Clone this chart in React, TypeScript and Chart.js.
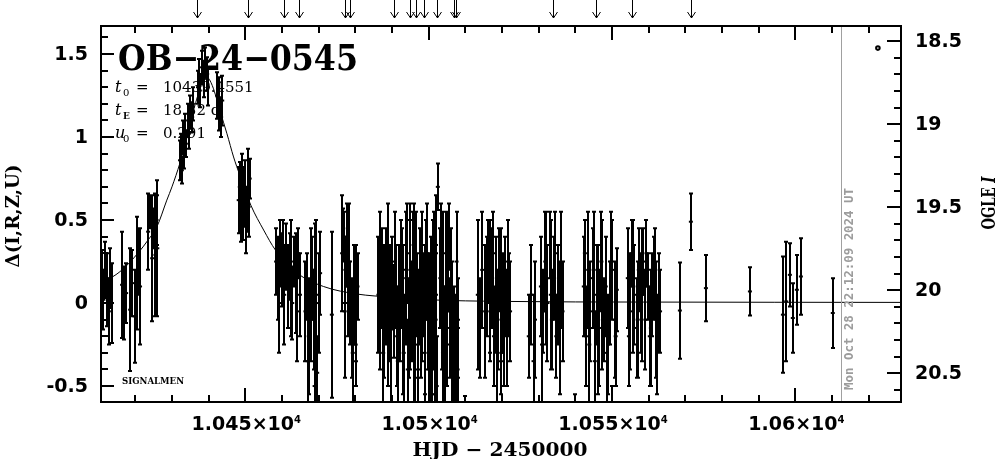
import { useEffect, useRef } from "react";
import { Chart, registerables } from "chart.js";

Chart.register(...registerables);

// ---- data ----
// [HJD-2450000, Delta(I), error]
const photometry: [number, number, number][] = [
  [10410.8, 0.12, 0.2], [10411.3, 0.02, 0.18], [10411.8, 0.2, 0.17], [10412.3, 0.08, 0.22],
  [10412.8, -0.05, 0.2], [10413.2, 0.15, 0.18], [10413.6, 0.0, 0.24],
  [10416.4, 0.11, 0.32], [10416.9, 0.0, 0.22], [10417.5, 0.06, 0.18], [10418.6, -0.04, 0.37],
  [10419.2, 0.12, 0.2], [10419.8, -0.08, 0.28], [10420.4, 0.18, 0.34], [10421.0, 0.25, 0.2],
  [10421.3, 0.1, 0.35],
  [10423.5, 0.43, 0.23], [10423.9, 0.55, 0.1], [10424.6, 0.27, 0.38], [10425.0, 0.45, 0.12],
  [10425.5, 0.29, 0.37], [10425.8, 0.5, 0.15], [10426.0, 0.33, 0.41],
  [10432.2, 0.86, 0.12], [10432.5, 0.92, 0.1], [10432.7, 0.8, 0.08], [10433.0, 1.0, 0.1],
  [10433.3, 0.9, 0.09], [10433.6, 1.04, 0.1], [10433.8, 0.96, 0.08], [10434.4, 1.1, 0.1],
  [10434.6, 1.02, 0.09], [10434.9, 1.15, 0.1], [10435.5, 1.12, 0.09], [10435.7, 1.2, 0.1],
  [10437.1, 1.3, 0.1], [10437.4, 1.38, 0.09], [10437.6, 1.28, 0.1], [10438.2, 1.42, 0.1],
  [10438.7, 1.35, 0.11], [10439.0, 1.45, 0.09], [10439.6, 1.38, 0.1], [10439.8, 1.3, 0.11],
  [10442.3, 1.25, 0.14], [10442.8, 1.2, 0.16], [10443.4, 1.12, 0.12], [10443.7, 1.22, 0.15],
  [10448.2, 0.62, 0.2], [10448.5, 0.7, 0.15], [10448.9, 0.55, 0.18], [10449.2, 0.72, 0.18],
  [10449.5, 0.6, 0.22], [10449.9, 0.66, 0.2], [10450.2, 0.5, 0.2], [10450.6, 0.68, 0.25],
  [10450.9, 0.58, 0.18], [10451.2, 0.75, 0.12],
  [10458.4, 0.25, 0.2], [10458.9, 0.15, 0.25], [10459.5, 0.3, 0.2], [10460.0, 0.2, 0.22],
  [10460.6, 0.05, 0.3], [10461.1, 0.28, 0.2], [10461.7, 0.1, 0.25], [10462.2, 0.22, 0.2],
  [10462.8, 0.0, 0.22], [10463.3, 0.25, 0.15], [10463.8, 0.12, 0.3], [10464.4, 0.3, 0.15],
  [10464.9, 0.05, 0.25],
  [10466.4, -0.05, 0.3], [10466.9, 0.1, 0.2], [10467.3, -0.2, 0.35], [10467.8, 0.05, 0.4],
  [10468.2, 0.15, 0.25], [10468.6, -0.1, 0.3], [10469.0, 0.2, 0.28], [10469.6, -0.42, 0.22],
  [10470.0, 0.0, 0.3], [10470.4, 0.18, 0.25],
  [10473.6, -0.07, 0.5],
  [10476.4, 0.3, 0.35], [10476.7, 0.45, 0.12], [10477.0, 0.4, 0.15], [10477.3, 0.2, 0.2],
  [10477.6, 0.35, 0.25], [10477.9, 0.1, 0.3], [10478.5, 0.0, 0.25], [10479.0, -0.15, 0.3],
  [10479.6, 0.05, 0.3], [10480.1, -0.25, 0.25], [10480.6, 0.1, 0.2],
  [10486.3, 0.05, 0.35], [10486.8, -0.1, 0.3], [10487.3, 0.15, 0.3], [10487.8, -0.05, 0.4],
  [10488.4, 0.1, 0.35], [10489.0, -0.2, 0.3], [10489.5, 0.0, 0.35], [10490.0, 0.12, 0.28],
  [10490.5, -0.05, 0.28], [10491.0, 0.1, 0.25], [10491.4, -0.2, 0.3], [10491.9, 0.05, 0.3],
  [10492.3, -0.1, 0.25], [10492.8, 0.15, 0.3], [10493.2, -0.3, 0.35], [10493.7, 0.0, 0.2],
  [10494.1, 0.3, 0.3], [10494.6, -0.15, 0.3], [10495.0, 0.2, 0.4], [10495.4, -0.05, 0.3],
  [10495.9, 0.35, 0.25], [10496.3, -0.25, 0.4], [10496.8, 0.05, 0.25], [10497.2, -0.1, 0.3],
  [10497.6, 0.1, 0.35],
  [10498.0, -0.15, 0.3], [10498.5, 0.05, 0.25], [10498.9, -0.3, 0.3], [10499.3, 0.2, 0.3],
  [10499.8, -0.05, 0.35], [10500.2, -0.4, 0.3], [10500.6, 0.1, 0.3], [10501.0, -0.2, 0.35],
  [10501.5, 0.25, 0.3], [10501.9, -0.1, 0.4], [10502.2, -0.5, 0.3], [10502.5, 0.7, 0.14],
  [10503.2, 0.15, 0.3], [10503.6, -0.1, 0.3], [10504.0, 0.3, 0.25], [10504.4, -0.25, 0.35],
  [10504.9, 0.05, 0.3], [10505.3, 0.25, 0.3], [10505.7, -0.15, 0.3], [10506.1, 0.1, 0.35],
  [10506.5, -0.35, 0.3], [10506.8, -0.1, 0.2], [10507.1, -0.45, 0.3], [10507.4, -0.2, 0.25],
  [10507.7, -0.55, 0.25], [10508.0, -0.15, 0.3], [10510.0, -0.7, 0.14],
  [10513.4, 0.05, 0.45], [10513.9, -0.15, 0.3], [10514.6, 0.2, 0.35], [10515.4, -0.05, 0.4],
  [10515.8, 0.1, 0.3],
  [10516.3, 0.25, 0.25], [10516.8, -0.05, 0.3], [10517.3, 0.15, 0.3], [10517.8, -0.2, 0.3],
  [10518.3, 0.05, 0.35], [10518.8, -0.1, 0.3], [10519.3, 0.2, 0.25], [10519.8, -0.3, 0.25],
  [10520.3, 0.0, 0.3], [10520.8, 0.1, 0.3], [10521.3, -0.15, 0.35], [10521.8, 0.05, 0.25],
  [10522.2, -0.05, 0.3],
  [10527.3, -0.2, 0.25], [10528.0, 0.05, 0.3], [10528.6, -0.35, 0.4], [10529.0, -0.1, 0.35],
  [10530.6, 0.1, 0.3], [10531.2, -0.05, 0.25], [10531.8, 0.25, 0.3], [10532.4, 0.0, 0.35],
  [10533.0, 0.35, 0.2], [10533.6, -0.1, 0.3], [10534.2, 0.15, 0.25], [10534.8, -0.2, 0.25],
  [10535.4, 0.05, 0.3], [10536.0, 0.2, 0.35], [10536.5, -0.05, 0.3], [10540.0, -0.75, 0.2],
  [10542.3, 0.1, 0.3], [10542.9, -0.2, 0.3], [10543.5, 0.2, 0.35], [10544.1, -0.05, 0.3],
  [10544.7, 0.15, 0.3], [10545.3, -0.35, 0.3], [10545.9, 0.05, 0.3], [10546.5, -0.15, 0.35],
  [10547.1, 0.25, 0.3], [10547.7, -0.1, 0.25], [10548.3, 0.1, 0.3], [10548.9, -0.25, 0.3],
  [10549.5, 0.0, 0.25], [10550.0, -0.7, 0.2], [10550.1, 0.2, 0.3], [10550.7, -0.1, 0.35],
  [10551.3, 0.08, 0.25],
  [10554.3, 0.15, 0.3], [10554.9, -0.05, 0.35], [10555.5, 0.3, 0.2], [10556.1, 0.05, 0.3],
  [10556.7, -0.15, 0.3], [10557.3, 0.2, 0.25], [10557.9, 0.0, 0.3], [10558.5, 0.25, 0.2],
  [10559.1, -0.1, 0.3], [10559.7, 0.1, 0.2], [10560.3, -0.2, 0.3], [10560.9, 0.05, 0.25],
  [10561.5, 0.15, 0.25], [10562.1, -0.1, 0.35], [10562.7, 0.0, 0.3], [10563.1, -0.05, 0.25],
  [10568.5, -0.045, 0.29], [10571.5, 0.49, 0.17], [10575.6, 0.09, 0.2], [10587.6, 0.07, 0.145],
  [10596.6, -0.07, 0.35], [10597.5, 0.01, 0.36], [10598.5, 0.17, 0.19], [10599.3, -0.09, 0.21],
  [10600.4, 0.08, 0.21], [10601.5, 0.16, 0.23], [10610.2, -0.06, 0.21],
];

// additional points in the crowded seasons
const photometryDense: [number, number, number][] = [
  [10459.2, 0.0, 0.3], [10460.3, 0.35, 0.15], [10462.5, 0.15, 0.35], [10464.1, -0.05, 0.3],
  [10467.0, -0.35, 0.3], [10468.9, -0.5, 0.3], [10469.3, 0.05, 0.45],
  [10477.1, -0.05, 0.4], [10478.2, 0.25, 0.35], [10479.3, -0.3, 0.4], [10480.3, 0.0, 0.35],
  [10486.6, 0.25, 0.3], [10487.6, -0.3, 0.3], [10488.8, 0.2, 0.4], [10489.8, -0.15, 0.45],
  [10490.8, 0.25, 0.3], [10491.6, -0.35, 0.3], [10492.5, 0.3, 0.2], [10493.0, -0.1, 0.45],
  [10493.9, 0.15, 0.4], [10494.3, -0.4, 0.3], [10494.8, 0.05, 0.45], [10495.6, 0.1, 0.45],
  [10496.0, -0.3, 0.35], [10496.6, 0.2, 0.35], [10497.0, -0.45, 0.3],
  [10498.2, 0.1, 0.45], [10499.1, -0.1, 0.45], [10499.6, 0.3, 0.3], [10500.4, -0.15, 0.45],
  [10500.8, -0.55, 0.3], [10501.2, 0.05, 0.45], [10501.7, -0.35, 0.35], [10502.0, 0.35, 0.3],
  [10503.4, 0.35, 0.25], [10503.9, -0.3, 0.4], [10504.6, 0.1, 0.45], [10505.1, -0.05, 0.45],
  [10505.5, 0.4, 0.2], [10506.3, -0.2, 0.45], [10507.3, -0.6, 0.3], [10507.9, -0.4, 0.3],
  [10507.6, 0.25, 0.3],
  [10516.6, 0.1, 0.4], [10517.6, 0.3, 0.25], [10518.6, -0.25, 0.35], [10519.6, 0.05, 0.4],
  [10520.6, -0.1, 0.4], [10521.6, 0.25, 0.25],
  [10530.9, -0.25, 0.35], [10532.1, 0.15, 0.4], [10533.3, 0.05, 0.45], [10534.5, 0.3, 0.25],
  [10535.7, -0.15, 0.4],
  [10542.6, 0.3, 0.2], [10543.8, -0.25, 0.4], [10545.0, 0.2, 0.35], [10546.2, -0.1, 0.45],
  [10547.4, 0.05, 0.45], [10548.6, -0.3, 0.35], [10549.8, 0.25, 0.3], [10551.0, -0.2, 0.3],
  [10554.6, -0.2, 0.3], [10555.8, 0.1, 0.4], [10557.0, -0.1, 0.35], [10558.2, 0.05, 0.4],
  [10559.4, 0.3, 0.2], [10560.6, -0.15, 0.35], [10561.8, 0.2, 0.25], [10562.4, -0.25, 0.3],
];

const modelHjd = [
  10410.65, 10413.1, 10416.4, 10420.7, 10423.5, 10425.9, 10428.6, 10430.0, 10432.2, 10434.0,
  10436.0, 10438.0, 10439.5, 10441.0, 10443.2, 10445.0, 10446.8, 10448.5, 10451.5, 10455.0,
  10458.2, 10464.2, 10471.3, 10480.6, 10489.6, 10500.0, 10520.0, 10560.0, 10628.8,
];
const modelDelta = [
  0.135, 0.15, 0.2, 0.3, 0.38, 0.46, 0.62, 0.7, 0.845, 0.99,
  1.17, 1.31, 1.36, 1.31, 1.15, 1.02, 0.88, 0.77, 0.59, 0.44,
  0.32, 0.18, 0.1, 0.054, 0.036, 0.02, 0.01, 0.006, 0.004,
];

const arrowHjd = [
  10436.7, 10450.6, 10460.6, 10464.7, 10477.1, 10478.6, 10490.6, 10494.9, 10496.6,
  10498.6, 10502.4, 10506.8, 10507.4, 10533.8, 10545.5, 10555.5, 10571.6,
];

const xTickValues = [10450, 10500, 10550, 10600];
const xTickMantissa = ["1.045×10", "1.05×10", "1.055×10", "1.06×10"];
const xTickExponent = ["4", "4", "4", "4"];
const yTickValues = [-0.5, 0, 0.5, 1, 1.5];
const yTickLabels = ["-0.5", "0", "0.5", "1", "1.5"];
const magTickValues = [18.5, 19, 19.5, 20, 20.5];
const magTickLabels = ["18.5", "19", "19.5", "20", "20.5"];

const paramLines = [
  { sym: "t", sub: "0", value: "10439.4551" },
  { sym: "t", sub: "E", value: "18.32 d" },
  { sym: "u", sub: "0", value: "0.291" },
];

const eventName = "OB−24−0545";
const nowHjd = 10612.42;
const nowLabel = "Mon Oct 28 22:12:09 2024 UT";
const markerPoint = { x: 10622.5, y: 1.536 };

const X_MIN = 10410.65;
const X_MAX = 10628.8;
const Y_MIN = -0.596;
const Y_MAX = 1.669;
const I_BASE = 20.078; // OGLE I magnitude at Delta = 0

const allPhotometry = photometry.concat(photometryDense);

function drawFitted(
  ctx: CanvasRenderingContext2D,
  text: string,
  x: number,
  y: number,
  width: number,
  font: string,
  align: "left" | "center" = "left",
  baseline: CanvasTextBaseline = "alphabetic"
) {
  ctx.save();
  ctx.font = font;
  ctx.textAlign = "left";
  ctx.textBaseline = baseline;
  const w = ctx.measureText(text).width;
  ctx.translate(x, y);
  ctx.scale(width / w, 1);
  ctx.fillText(text, align === "center" ? -w / 2 : 0, 0);
  ctx.restore();
}

const SANS = "'DejaVu Sans'";
const SERIF = "'DejaVu Serif'";

export default function App() {
  const ref = useRef<HTMLCanvasElement>(null);

  useEffect(() => {
    const canvas = ref.current;
    if (!canvas) return;

    const errorBars = {
      id: "errorBars",
      beforeDatasetsDraw(chart: any) {
        const { ctx, chartArea: ca } = chart;
        const xs = chart.scales.x;
        const ys = chart.scales.y;
        ctx.save();
        ctx.beginPath();
        ctx.rect(ca.left, ca.top, ca.right - ca.left, ca.bottom - ca.top);
        ctx.clip();
        ctx.strokeStyle = "#000";
        ctx.lineWidth = 2;
        ctx.beginPath();
        for (const [t, d, e] of allPhotometry) {
          const x = Math.round(xs.getPixelForValue(t));
          const y1 = ys.getPixelForValue(d + e);
          const y2 = ys.getPixelForValue(d - e);
          ctx.moveTo(x, y1);
          ctx.lineTo(x, y2);
          ctx.moveTo(x - 2, y1);
          ctx.lineTo(x + 2, y1);
          ctx.moveTo(x - 2, y2);
          ctx.lineTo(x + 2, y2);
        }
        ctx.stroke();
        ctx.restore();
      },
      afterDraw(chart: any) {
        const { ctx, chartArea: ca } = chart;
        const xs = chart.scales.x;
        const ys = chart.scales.y;
        ctx.save();

        // "now" line
        ctx.strokeStyle = "#a0a0a0";
        ctx.lineWidth = 1;
        const xn = Math.round(xs.getPixelForValue(nowHjd)) + 0.5;
        ctx.beginPath();
        ctx.moveTo(xn, ca.top);
        ctx.lineTo(xn, ca.bottom);
        ctx.stroke();

        // date text
        ctx.fillStyle = "#9c9c9c";
        ctx.save();
        ctx.translate(xn + 8, 289);
        ctx.rotate(-Math.PI / 2);
        drawFitted(ctx, nowLabel, 0, 0, 202, `bold 12px 'DejaVu Sans Mono'`, "center", "middle");
        ctx.restore();

        ctx.fillStyle = "#000";
        ctx.strokeStyle = "#000";

        // frame
        ctx.lineWidth = 2;
        ctx.strokeRect(ca.left, ca.top, ca.right - ca.left, ca.bottom - ca.top);

        // x ticks (bottom and top), inward
        ctx.beginPath();
        for (let k = 1041; k <= 1063; k++) {
          const v = k * 10;
          if (v < X_MIN || v > X_MAX) continue;
          const x = Math.round(xs.getPixelForValue(v));
          const len = k % 5 === 0 ? 14 : 7;
          ctx.moveTo(x, ca.bottom);
          ctx.lineTo(x, ca.bottom - len);
          ctx.moveTo(x, ca.top);
          ctx.lineTo(x, ca.top + len);
        }
        // left ticks
        for (let k = -5; k <= 16; k++) {
          const v = k / 10;
          if (v < Y_MIN || v > Y_MAX) continue;
          const y = Math.round(ys.getPixelForValue(v));
          const len = k % 5 === 0 ? 13 : 7;
          ctx.moveTo(ca.left, y);
          ctx.lineTo(ca.left + len, y);
        }
        // right ticks (OGLE I)
        for (let k = 184; k <= 207; k++) {
          const m = k / 10;
          const d = I_BASE - m;
          if (d < Y_MIN || d > Y_MAX) continue;
          const y = Math.round(ys.getPixelForValue(d));
          const len = k % 5 === 0 ? 14 : 7;
          ctx.moveTo(ca.right, y);
          ctx.lineTo(ca.right - len, y);
        }
        ctx.stroke();

        // left tick labels
        ctx.font = `bold 19px ${SANS}`;
        ctx.textAlign = "right";
        ctx.textBaseline = "middle";
        yTickValues.forEach((v, i) => {
          ctx.fillText(yTickLabels[i], 88, ys.getPixelForValue(v) + 1);
        });
        // right tick labels
        ctx.textAlign = "left";
        magTickValues.forEach((m, i) => {
          ctx.fillText(magTickLabels[i], 915, ys.getPixelForValue(I_BASE - m) + 1);
        });
        // bottom tick labels with superscript
        ctx.textBaseline = "alphabetic";
        xTickValues.forEach((v, i) => {
          const x = xs.getPixelForValue(v);
          ctx.font = `bold 19px ${SANS}`;
          const wb = ctx.measureText(xTickMantissa[i]).width;
          ctx.font = `bold 10px ${SANS}`;
          const we = ctx.measureText(xTickExponent[i]).width;
          const x0 = x - (wb + we) / 2 + 1;
          ctx.font = `bold 19px ${SANS}`;
          ctx.fillText(xTickMantissa[i], x0, 430);
          ctx.font = `bold 10px ${SANS}`;
          ctx.fillText(xTickExponent[i], x0 + wb, 423);
        });

        // axis titles
        drawFitted(ctx, "HJD − 2450000", 500, 456, 175, `bold 19px ${SERIF}`, "center");
        ctx.save();
        ctx.translate(14, 216);
        ctx.rotate(-Math.PI / 2);
        drawFitted(ctx, "Δ(I,R,Z,U)", 0, 0, 103, `bold 18px ${SERIF}`, "center", "middle");
        ctx.restore();

        ctx.save();
        ctx.translate(990, 203);
        ctx.rotate(-Math.PI / 2);
        ctx.textBaseline = "middle";
        ctx.font = `bold 18px ${SERIF}`;
        const w1 = ctx.measureText("OGLE ").width;
        ctx.font = `italic bold 18px ${SERIF}`;
        const w2 = ctx.measureText("I").width;
        const s = 53 / (w1 + w2);
        ctx.scale(s, 1);
        const start = -(w1 + w2) / 2;
        ctx.font = `bold 18px ${SERIF}`;
        ctx.fillText("OGLE ", start, 0);
        ctx.font = `italic bold 18px ${SERIF}`;
        ctx.fillText("I", start + w1, 0);
        ctx.restore();

        // title
        drawFitted(ctx, eventName, 118, 70, 240, `bold 35px ${SERIF}`, "left");

        // parameters
        paramLines.forEach((p, i) => {
          const yb = 92 + i * 23;
          ctx.textAlign = "left";
          ctx.font = `italic 16px ${SERIF}`;
          ctx.fillText(p.sym, 115, yb);
          ctx.font = p.sub === "E" ? `bold 9px ${SERIF}` : `10px ${SERIF}`;
          ctx.fillText(p.sub, 123, yb + 4);
          ctx.font = `15px ${SERIF}`;
          ctx.fillText("=", 136, yb);
          ctx.fillText(p.value, 163, yb);
        });

        // SIGNALMEN
        drawFitted(ctx, "SIGNALMEN", 122, 384, 62, `bold 10px ${SERIF}`, "left");

        // marker
        ctx.lineWidth = 2;
        ctx.beginPath();
        ctx.arc(xs.getPixelForValue(markerPoint.x), ys.getPixelForValue(markerPoint.y), 1.8, 0, Math.PI * 2);
        ctx.stroke();

        // alert arrows on top
        ctx.lineWidth = 1;
        ctx.beginPath();
        for (const t of arrowHjd) {
          const x = Math.round(xs.getPixelForValue(t)) + 0.5;
          ctx.moveTo(x, 0);
          ctx.lineTo(x, 18);
          ctx.moveTo(x - 4, 12);
          ctx.lineTo(x, 18);
          ctx.lineTo(x + 4, 12);
        }
        ctx.stroke();

        ctx.restore();
      },
    };

    const chart = new Chart(canvas, {
      type: "scatter",
      data: {
        datasets: [
          {
            type: "line",
            data: modelHjd.map((t, i) => ({ x: t, y: modelDelta[i] })),
            borderColor: "#000",
            borderWidth: 1,
            pointRadius: 0,
            cubicInterpolationMode: "monotone",
            fill: false,
          } as any,
          {
            type: "scatter",
            data: allPhotometry.map(([t, d]) => ({ x: t, y: d })),
            pointStyle: "line",
            pointRadius: 2,
            pointBorderWidth: 2,
            pointBorderColor: "#000",
            pointBackgroundColor: "#000",
            borderColor: "#000",
          } as any,
        ],
      },
      options: {
        responsive: false,
        animation: false,
        devicePixelRatio: 1,
        events: [],
        layout: { padding: { left: 101, right: 103, top: 26, bottom: 57 } },
        plugins: { legend: { display: false }, tooltip: { enabled: false } },
        scales: {
          x: { type: "linear", min: X_MIN, max: X_MAX, display: false },
          y: { type: "linear", min: Y_MIN, max: Y_MAX, display: false },
        },
      },
      plugins: [errorBars],
    });

    return () => chart.destroy();
  }, []);

  return (
    <div style={{ position: "fixed", left: 0, top: 0, width: 1004, height: 459, background: "#fff" }}>
      <canvas ref={ref} width={1004} height={459} style={{ display: "block" }} />
    </div>
  );
}
